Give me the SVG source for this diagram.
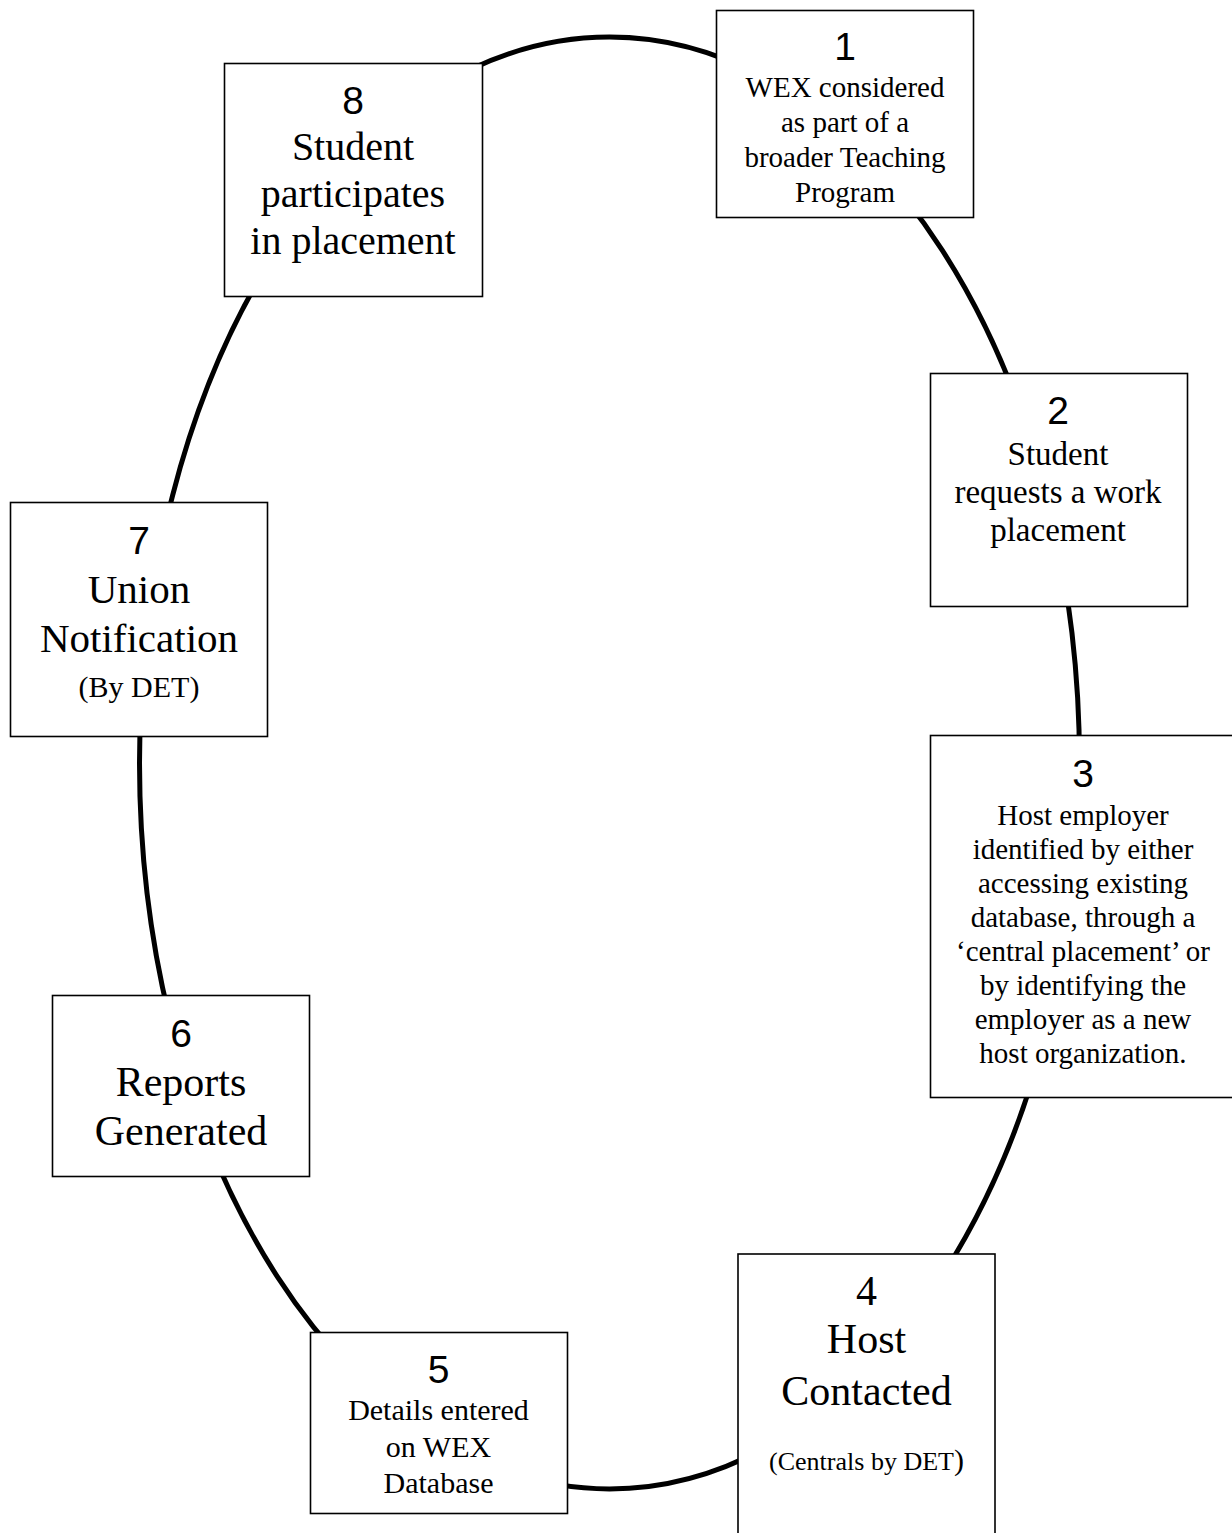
<svg xmlns="http://www.w3.org/2000/svg" width="1232" height="1533" viewBox="0 0 1232 1533">
<style>
.box{fill:#fff;stroke:#000;stroke-width:1.6}
.ring{fill:none;stroke:#000;stroke-width:5}
.num{font-family:"Liberation Sans",Arial,sans-serif;font-size:39px;text-anchor:middle;fill:#000}
.t{font-family:"Liberation Serif","Times New Roman",serif;text-anchor:middle;fill:#000}
</style>
<rect width="1232" height="1533" fill="#fff"/>
<g id="connectors">
<ellipse class="ring" cx="609.5" cy="763" rx="470" ry="726"/>
</g>
<g id="node1">
<rect class="box" x="716.5" y="10.5" width="257" height="207"/>
<text class="num" x="845" y="60">1</text>
<text class="t" font-size="29" x="845" y="97">WEX considered</text>
<text class="t" font-size="29" x="845" y="132">as part of a</text>
<text class="t" font-size="29" x="845" y="167">broader Teaching</text>
<text class="t" font-size="29" x="845" y="202">Program</text>
</g>
<g id="node2">
<rect class="box" x="930.5" y="373.5" width="257" height="233"/>
<text class="num" x="1058" y="424">2</text>
<text class="t" font-size="33" x="1058" y="465">Student</text>
<text class="t" font-size="33" x="1058" y="503">requests a work</text>
<text class="t" font-size="33" x="1058" y="541">placement</text>
</g>
<g id="node3">
<rect class="box" x="930.5" y="735.5" width="306" height="362"/>
<text class="num" x="1083" y="787">3</text>
<text class="t" font-size="29" x="1083" y="825">Host employer</text>
<text class="t" font-size="29" x="1083" y="859">identified by either</text>
<text class="t" font-size="29" x="1083" y="893">accessing existing</text>
<text class="t" font-size="29" x="1083" y="927">database, through a</text>
<text class="t" font-size="29" x="1083" y="961">‘central placement’ or</text>
<text class="t" font-size="29" x="1083" y="995">by identifying the</text>
<text class="t" font-size="29" x="1083" y="1029">employer as a new</text>
<text class="t" font-size="29" x="1083" y="1063">host organization.</text>
</g>
<g id="node4">
<rect class="box" x="738" y="1254" width="257" height="300"/>
<text class="t" font-size="42" x="866.5" y="1305">4</text>
<text class="t" font-size="42" x="866.5" y="1353">Host</text>
<text class="t" font-size="42" x="866.5" y="1405">Contacted</text>
<text class="t" font-size="26" x="866.5" y="1470">(Centrals by DET<tspan font-size="30">)</tspan></text>
</g>
<g id="node5">
<rect class="box" x="310.5" y="1332.5" width="257" height="181"/>
<text class="num" x="438.5" y="1383">5</text>
<text class="t" font-size="30" x="438.5" y="1420">Details entered</text>
<text class="t" font-size="30" x="438.5" y="1457">on WEX</text>
<text class="t" font-size="30" x="438.5" y="1493">Database</text>
</g>
<g id="node6">
<rect class="box" x="52.5" y="995.5" width="257" height="181"/>
<text class="num" x="181" y="1047">6</text>
<text class="t" font-size="42" x="181" y="1096">Reports</text>
<text class="t" font-size="42" x="181" y="1145">Generated</text>
</g>
<g id="node7">
<rect class="box" x="10.5" y="502.5" width="257" height="234"/>
<text class="num" x="139" y="554">7</text>
<text class="t" font-size="41" x="139" y="603">Union</text>
<text class="t" font-size="41" x="139" y="652">Notification</text>
<text class="t" font-size="30" x="139" y="697">(By DET)</text>
</g>
<g id="node8">
<rect class="box" x="224.5" y="63.5" width="258" height="233"/>
<text class="num" x="353" y="114">8</text>
<text class="t" font-size="40" x="353" y="160">Student</text>
<text class="t" font-size="40" x="353" y="207">participates</text>
<text class="t" font-size="40" x="353" y="254">in placement</text>
</g>
</svg>
